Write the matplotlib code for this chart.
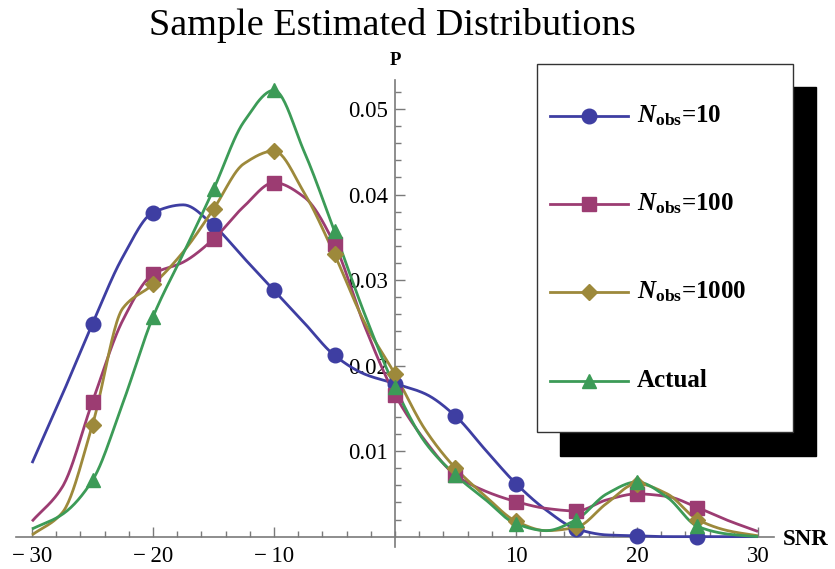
import numpy as np
import matplotlib
matplotlib.use("Agg")
import matplotlib.pyplot as plt
from matplotlib.lines import Line2D
from matplotlib.patches import Rectangle

plt.rcParams['font.family'] = ['Liberation Serif', 'DejaVu Serif']
plt.rcParams['mathtext.fontset'] = 'custom'
plt.rcParams['mathtext.rm'] = 'Liberation Serif:bold'
plt.rcParams['mathtext.it'] = 'Liberation Serif:italic:bold'
plt.rcParams['mathtext.bf'] = 'Liberation Serif:bold'

# ---- data ----
snr = [-30, -27.5, -25, -22.5, -20, -17.5, -15, -12.5, -10, -7.5, -5, -2.5, 0,
       2.5, 5, 7.5, 10, 12.5, 15, 17.5, 20, 22.5, 25, 27.5, 30]
marker_snr = [-25, -20, -15, -10, -5, 0, 5, 10, 15, 20, 25]

p_n10 = [0.0086, 0.0166, 0.0249, 0.0327, 0.0379, 0.0388, 0.0364, 0.0326, 0.0288,
         0.0250, 0.0212, 0.0190, 0.0179, 0.0167, 0.0141, 0.0101, 0.0062, 0.0031,
         0.0009, 0.0002, 0.0001, 0.0, 0.0, 0.0, 0.0]
p_n100 = [0.0018, 0.0058, 0.0158, 0.0253, 0.0307, 0.0321, 0.0348, 0.0386, 0.0414,
          0.0397, 0.0342, 0.0246, 0.0166, 0.0112, 0.0072, 0.0053, 0.0041, 0.0033,
          0.0030, 0.0043, 0.0050, 0.0047, 0.0034, 0.0019, 0.0006]
p_n1000 = [0.0002, 0.0028, 0.0131, 0.0267, 0.0295, 0.0333, 0.0383, 0.0436, 0.0451,
           0.0402, 0.0330, 0.0250, 0.0190, 0.0125, 0.0080, 0.0047, 0.0018, 0.0007,
           0.0011, 0.0039, 0.0062, 0.0050, 0.0020, 0.0007, 0.0001]
p_actual = [0.0009, 0.0026, 0.0066, 0.0156, 0.0257, 0.0331, 0.0406, 0.0485, 0.0522,
            0.0450, 0.0357, 0.0260, 0.0175, 0.0110, 0.0072, 0.0043, 0.0015, 0.0007,
            0.0020, 0.0050, 0.0064, 0.0046, 0.0012, 0.0003, 0.0]

series_labels = [r'$N_{\mathbf{obs}}$=10', r'$N_{\mathbf{obs}}$=100',
                 r'$N_{\mathbf{obs}}$=1000', 'Actual']
colors = ['#3e3ea2', '#9c3c72', '#9d893b', '#3c9b57']
markers = ['o', 's', 'D', '^']
msizes = [10.5, 9.5, 8.0, 9.5]
series = [p_n10, p_n100, p_n1000, p_actual]


def pchip(x, y, xn):
    x = np.asarray(x, float); y = np.asarray(y, float)
    h = np.diff(x); delta = np.diff(y) / h
    n = len(x); d = np.zeros(n)
    for k in range(1, n - 1):
        if delta[k - 1] * delta[k] > 0:
            w1 = 2 * h[k] + h[k - 1]; w2 = h[k] + 2 * h[k - 1]
            d[k] = (w1 + w2) / (w1 / delta[k - 1] + w2 / delta[k])
    d[0] = delta[0]; d[-1] = delta[-1]
    idx = np.clip(np.searchsorted(x, xn) - 1, 0, n - 2)
    t = (xn - x[idx]) / h[idx]
    h00 = 2 * t**3 - 3 * t**2 + 1; h10 = t**3 - 2 * t**2 + t
    h01 = -2 * t**3 + 3 * t**2; h11 = t**3 - t**2
    return h00 * y[idx] + h10 * h[idx] * d[idx] + h01 * y[idx + 1] + h11 * h[idx] * d[idx + 1]


W, H = 835, 569
fig = plt.figure(figsize=(W / 100, H / 100), dpi=100)
left_px, right_px, top_px, bot_px = 16.3, 773.7, 80, 546.9
ax = fig.add_axes([left_px / W, 1 - bot_px / H, (right_px - left_px) / W, (bot_px - top_px) / H])
ax.set_xlim(-31.3, 31.3)
ax.set_ylim(-0.0012, 0.0534)

xs = np.linspace(-30, 30, 601)
snr_arr = np.asarray(snr)
mask = np.isin(snr_arr, marker_snr)
for vals, c in zip(series, colors):
    ax.plot(xs, pchip(snr, vals, xs), color=c, lw=2.0, zorder=3, solid_capstyle='butt')
for vals, c, m, ms in zip(series, colors, markers, msizes):
    ax.plot(snr_arr[mask], np.asarray(vals)[mask], ls='none', marker=m, ms=ms,
            color=c, mec=c, zorder=4)

axis_col = '#7a7a7a'
for s in ['top', 'right']:
    ax.spines[s].set_visible(False)
ax.spines['left'].set_position(('data', 0))
ax.spines['bottom'].set_position(('data', 0))
for s in ['left', 'bottom']:
    ax.spines[s].set_color(axis_col)
    ax.spines[s].set_linewidth(1.2)

xt = [-30, -20, -10, 10, 20, 30]
ax.set_xticks(xt)
ax.set_xticklabels([('\u2212\u2009' + str(-v)) if v < 0 else str(v) for v in xt])
ax.set_xticks(np.arange(-30, 31, 2), minor=True)
yt = [0.01, 0.02, 0.03, 0.04, 0.05]
ax.set_yticks(yt)
ax.set_yticklabels(['0.01', '0.02', '0.03', '0.04', '0.05'])
ax.set_yticks(np.arange(0.002, 0.0531, 0.002), minor=True)
ax.tick_params(which='both', direction='in', color=axis_col, width=1.0, labelsize=16.5)
ax.tick_params(which='major', length=7)
ax.tick_params(which='minor', length=4)
ax.tick_params(axis='x', which='major', pad=7)
ax.tick_params(axis='y', which='major', pad=5)

# axis labels
fig.text(395 / W, 1 - 65 / H, 'P', ha='center', va='baseline', fontsize=13.5, fontweight='bold')
fig.text(783 / W, 1 - 545 / H, 'SNR', ha='left', va='baseline', fontsize=16.5, fontweight='bold')

# title
fig.text(392 / W, 1 - 35 / H, 'Sample Estimated Distributions', ha='center', va='baseline', fontsize=27.5)

# legend with black drop shadow
def fx(px):
    return px / W

def fy(py):
    return 1 - py / H

fig.add_artist(Rectangle((fx(560), fy(456)), 256 / W, 369.3 / H, transform=fig.transFigure,
                         facecolor='black', edgecolor='black', zorder=10))
fig.add_artist(Rectangle((fx(536.7), fy(432)), 256 / W, 368 / H, transform=fig.transFigure,
                         facecolor='white', edgecolor='#333333', lw=1.0, zorder=11))
entry_y = [116, 204, 292, 380.7]
for lab, c, m, ms, yy in zip(series_labels, colors, markers, msizes, entry_y):
    fig.add_artist(Line2D([fx(550), fx(628)], [fy(yy), fy(yy)], transform=fig.transFigure,
                          color=c, lw=2.0, zorder=12))
    fig.add_artist(Line2D([fx(589)], [fy(yy)], transform=fig.transFigure, ls='none',
                          marker=m, ms=ms, color=c, mec=c, zorder=13))
    fig.text(fx(637), fy(yy + 6), lab, ha='left', va='baseline', fontsize=18,
             fontweight='bold', zorder=14)

fig.savefig('out.png', dpi=100)
